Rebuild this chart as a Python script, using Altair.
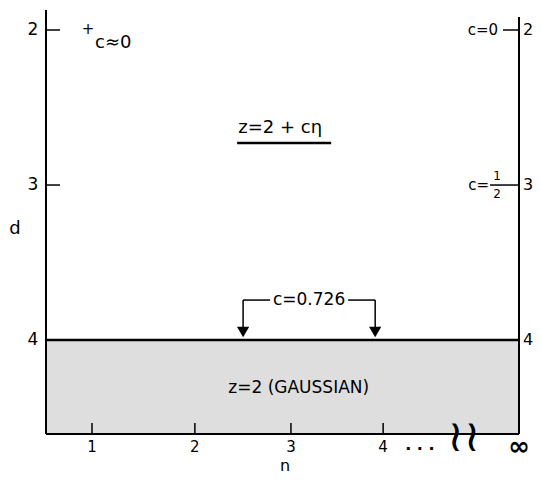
import altair as alt
import pandas as pd

# ---- data ----
d_ticks = [2, 3, 4]
d_labels = ["2", "3", "4"]
n_ticks = [1.0, 2.06, 3.05, 4.0]
n_labels = ["1", "2", "3", "4"]
n_min, n_inf = 0.526, 5.40
d_min, d_max = 1.871, 4.606
gauss_d = 4
arrow_n = [2.557, 3.918]
bracket_d = 3.742
c_label = "c=0.726"
c_label_n = 3.237
title_text = "z=2 + cη"
title_n, title_d = 2.98, 2.632
gauss_text = "z=2 (GAUSSIAN)"
gauss_n, gauss_d_text = 3.13, 4.31
plus_n, plus_d = 0.96, 2.0
plus_label = "c≈0"
right_c_d = [2, 3]
break_n = 4.83

W, H = 473, 424
FONT = "DejaVu Sans"
INK = "black"

xs = alt.Scale(domain=[n_min, n_inf], nice=False, zero=False)
ys = alt.Scale(domain=[d_min, d_max], reverse=True, nice=False, zero=False)


def X(f):
    return alt.X(f, type="quantitative", scale=xs, axis=None)


def Y(f):
    return alt.Y(f, type="quantitative", scale=ys, axis=None)


def txt(**kw):
    base = dict(font=FONT, color=INK, baseline="middle")
    base.update(kw)
    return base


one = pd.DataFrame({"k": [0]})

shade = alt.Chart(pd.DataFrame({"d": [gauss_d]})).mark_rect(fill="#dedede").encode(
    x=alt.value(0), x2=alt.value(W), y=Y("d"), y2=alt.value(H)
)
boundary = alt.Chart(pd.DataFrame({"d": [gauss_d]})).mark_rule(color=INK, strokeWidth=2.5).encode(
    x=alt.value(0), x2=alt.value(W), y=Y("d")
)
left_axis = alt.Chart(one).mark_rule(color=INK, strokeWidth=2).encode(
    x=alt.value(0), y=alt.value(0), y2=alt.value(H)
)
right_axis = alt.Chart(one).mark_rule(color=INK, strokeWidth=2).encode(
    x=alt.value(W), y=alt.value(7), y2=alt.value(H)
)
bottom_axis = alt.Chart(one).mark_rule(color=INK, strokeWidth=2).encode(
    y=alt.value(H), x=alt.value(0), x2=alt.value(W)
)

dt = pd.DataFrame({"d": d_ticks, "lab": d_labels})
left_ticks = alt.Chart(dt.iloc[:2]).mark_rule(color=INK, strokeWidth=1.5).encode(
    y=Y("d"), x=alt.value(0), x2=alt.value(14)
)
right_ticks = alt.Chart(pd.DataFrame({"d": right_c_d})).mark_rule(color=INK, strokeWidth=1.5).encode(
    y=Y("d"), x=alt.value(W - 16), x2=alt.value(W)
)
left_labels = alt.Chart(dt).mark_text(**txt(fontSize=17, align="center")).encode(
    y=Y("d"), x=alt.value(-13), text="lab:N"
)
right_labels = alt.Chart(dt).mark_text(**txt(fontSize=16, align="center")).encode(
    y=Y("d"), x=alt.value(W + 9), text="lab:N"
)

nt = pd.DataFrame({"n": n_ticks, "lab": n_labels})
bottom_ticks = alt.Chart(nt).mark_rule(color=INK, strokeWidth=1.5).encode(
    x=X("n"), y=alt.value(H - 11), y2=alt.value(H)
)
bottom_labels = alt.Chart(nt).mark_text(**txt(fontSize=15)).encode(
    x=X("n"), y=alt.value(H + 13), text="lab:N"
)
inf_label = alt.Chart(pd.DataFrame({"n": [n_inf], "lab": ["∞"]})).mark_text(
    **txt(fontSize=26, fontWeight="bold")
).encode(x=X("n"), y=alt.value(H + 13), text="lab:N")
dots = alt.Chart(pd.DataFrame({"n": [n_ticks[3]], "lab": ["·  ·  ·"]})).mark_text(
    **txt(fontSize=16, fontWeight="bold", align="left", dx=22)
).encode(x=X("n"), y=alt.value(H + 15), text="lab:N")
brk = alt.Chart(pd.DataFrame({"n": [break_n], "lab": ["≀≀"]})).mark_text(
    **txt(fontSize=44)
).encode(x=X("n"), y=alt.value(H + 4), text="lab:N")

d_title = alt.Chart(pd.DataFrame({"lab": ["d"]})).mark_text(**txt(fontSize=18)).encode(
    x=alt.value(-31), y=alt.value(219), text="lab:N"
)
n_title = alt.Chart(pd.DataFrame({"lab": ["n"]})).mark_text(
    font=FONT, color=INK, fontSize=16, baseline="bottom"
).encode(x=alt.value(239), y=alt.value(H + 40), text="lab:N")

plus = alt.Chart(pd.DataFrame({"n": [plus_n], "d": [plus_d], "lab": ["+"]})).mark_text(
    **txt(fontSize=15, dy=-1)
).encode(x=X("n"), y=Y("d"), text="lab:N")
plus_txt = alt.Chart(pd.DataFrame({"n": [plus_n], "d": [plus_d], "lab": [plus_label]})).mark_text(
    **txt(fontSize=18, align="left", dx=7, dy=13)
).encode(x=X("n"), y=Y("d"), text="lab:N")

c0 = alt.Chart(pd.DataFrame({"d": [right_c_d[0]], "lab": ["c=0"]})).mark_text(
    **txt(fontSize=15, align="right")
).encode(x=alt.value(W - 21), y=Y("d"), text="lab:N")
chalf = alt.Chart(pd.DataFrame({"d": [right_c_d[1]], "lab": ["c="]})).mark_text(
    **txt(fontSize=15, align="right")
).encode(x=alt.value(W - 30), y=Y("d"), text="lab:N")
num = alt.Chart(pd.DataFrame({"d": [right_c_d[1]], "lab": ["1"]})).mark_text(
    **txt(fontSize=12, dy=-9)
).encode(x=alt.value(W - 22), y=Y("d"), text="lab:N")
den = alt.Chart(pd.DataFrame({"d": [right_c_d[1]], "lab": ["2"]})).mark_text(
    **txt(fontSize=12, dy=9)
).encode(x=alt.value(W - 22), y=Y("d"), text="lab:N")
fbar = alt.Chart(pd.DataFrame({"d": [right_c_d[1]]})).mark_rule(color=INK, strokeWidth=1.5).encode(
    y=Y("d"), x=alt.value(W - 29), x2=alt.value(W - 16)
)

title = alt.Chart(pd.DataFrame({"n": [title_n], "d": [title_d], "lab": [title_text]})).mark_text(
    **txt(fontSize=18, dx=-4)
).encode(x=X("n"), y=Y("d"), text="lab:N")
underline = alt.Chart(pd.DataFrame({"n": [title_n], "d": [title_d]})).mark_rule(
    color=INK, strokeWidth=2.5, xOffset=-47, x2Offset=47, yOffset=15, y2Offset=15
).encode(x=X("n"), x2="n:Q", y=Y("d"))

gauss = alt.Chart(pd.DataFrame({"n": [gauss_n], "d": [gauss_d_text], "lab": [gauss_text]})).mark_text(
    **txt(fontSize=17)
).encode(x=X("n"), y=Y("d"), text="lab:N")

# bracket for c=0.726
clab = alt.Chart(pd.DataFrame({"n": [c_label_n], "d": [bracket_d], "lab": [c_label]})).mark_text(
    **txt(fontSize=17)
).encode(x=X("n"), y=Y("d"), text="lab:N")
hl = alt.Chart(pd.DataFrame({"a": [arrow_n[0]], "b": [c_label_n], "d": [bracket_d]})).mark_rule(
    color=INK, strokeWidth=1.5, x2Offset=-39
).encode(x=X("a"), x2="b:Q", y=Y("d"))
hr = alt.Chart(pd.DataFrame({"a": [c_label_n], "b": [arrow_n[1]], "d": [bracket_d]})).mark_rule(
    color=INK, strokeWidth=1.5, xOffset=39
).encode(x=X("a"), x2="b:Q", y=Y("d"))
vlines = alt.Chart(pd.DataFrame({"n": arrow_n, "d": [bracket_d] * 2, "e": [gauss_d] * 2})).mark_rule(
    color=INK, strokeWidth=1.5, y2Offset=-10
).encode(x=X("n"), y=Y("d"), y2="e:Q")
heads = alt.Chart(pd.DataFrame({"n": arrow_n, "d": [gauss_d] * 2})).mark_point(
    shape="triangle-down", filled=True, color=INK, size=150, opacity=1, yOffset=-8
).encode(x=X("n"), y=Y("d"))

chart = alt.layer(
    shade, boundary, left_axis, right_axis, bottom_axis,
    left_ticks, right_ticks, left_labels, right_labels,
    bottom_ticks, bottom_labels, inf_label, dots, brk,
    d_title, n_title, plus, plus_txt, c0, chalf, num, den, fbar,
    title, underline, gauss, clab, hl, hr, vlines, heads,
).properties(
    width=W, height=H,
    autosize=alt.AutoSizeParams(type="none"),
    padding={"left": 38, "top": 2, "right": 14, "bottom": 40},
).configure_view(stroke=None)

chart.save("out.html", embed_options={"renderer": "svg", "actions": False})
